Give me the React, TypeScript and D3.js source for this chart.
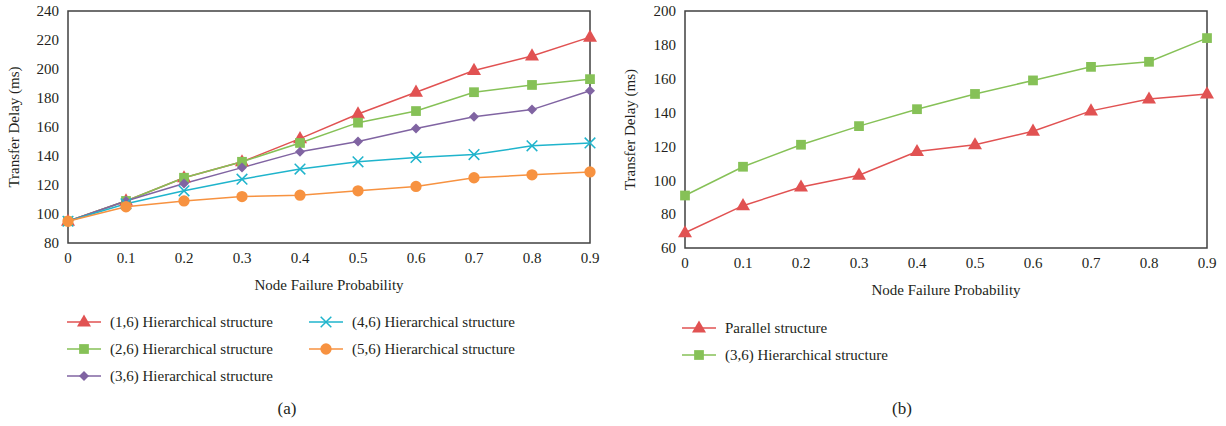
import React from "react";
import * as d3 from "d3";

const probs = [0, 0.1, 0.2, 0.3, 0.4, 0.5, 0.6, 0.7, 0.8, 0.9];
const xTickLabels = ["0", "0.1", "0.2", "0.3", "0.4", "0.5", "0.6", "0.7", "0.8", "0.9"];

const h16 = [95, 109, 125, 136, 152, 169, 184, 199, 209, 222];
const h26 = [95, 109, 125, 136, 149, 163, 171, 184, 189, 193];
const h36 = [95, 109, 121, 132, 143, 150, 159, 167, 172, 185];
const h46 = [95, 107, 116, 124, 131, 136, 139, 141, 147, 149];
const h56 = [95, 105, 109, 112, 113, 116, 119, 125, 127, 129];

const parallel = [69, 85, 96, 103, 117, 121, 129, 141, 148, 151];
const h36b = [91, 108, 121, 132, 142, 151, 159, 167, 170, 184];

const yTicksA = [80, 100, 120, 140, 160, 180, 200, 220, 240];
const yTicksB = [60, 80, 100, 120, 140, 160, 180, 200];

const RED = "#e15252";
const GREEN = "#86c157";
const PURPLE = "#8064a2";
const CYAN = "#1fb4cc";
const ORANGE = "#f79240";

const FONT = "'Liberation Serif', 'DejaVu Serif', serif";
const TEXT = "#231f20";
const FS = 15;

type Shape = "triangle" | "square" | "diamond" | "times" | "circle";

const symbolPath = (shape: Shape) => {
  const t =
    shape === "triangle"
      ? d3.symbolTriangle
      : shape === "square" || shape === "diamond"
      ? d3.symbolSquare
      : shape === "times"
      ? d3.symbolTimes
      : d3.symbolCircle;
  const size = shape === "triangle" ? 85 : shape === "square" ? 95 : shape === "diamond" ? 50 : shape === "times" ? 75 : 100;
  return d3.symbol(t, size)() as string;
};

const Marker = ({ shape, color, x, y }: { shape: Shape; color: string; x: number; y: number }) =>
  shape === "times" ? (
    <path d={symbolPath(shape)} transform={`translate(${x},${y})`} fill="none" stroke={color} strokeWidth={1.5} />
  ) : (
    <path
      d={symbolPath(shape)}
      transform={`translate(${x},${y + (shape === "triangle" ? 0.5 : 0)})${shape === "diamond" ? " rotate(45)" : ""}`}
      fill={color}
    />
  );

type Series = { name: string; values: number[]; color: string; shape: Shape };

const Panel = ({
  left,
  right,
  top,
  bottom,
  yDomain,
  yTicks,
  series,
  titleX,
}: {
  left: number;
  right: number;
  top: number;
  bottom: number;
  yDomain: [number, number];
  yTicks: number[];
  series: Series[];
  titleX: number;
}) => {
  const x = d3.scaleLinear().domain([0, 0.9]).range([left, right]);
  const y = d3.scaleLinear().domain(yDomain).range([bottom, top]);
  const line = d3
    .line<number>()
    .x((_, i) => x(probs[i]))
    .y((d) => y(d));
  return (
    <g>
      {series.map((s) => (
        <path key={s.name} d={line(s.values) as string} fill="none" stroke={s.color} strokeWidth={1.5} />
      ))}
      <rect x={left} y={top} width={right - left} height={bottom - top} fill="none" stroke="#404040" strokeWidth={1.5} />
      {series.map((s) =>
        s.values.map((v, i) => <Marker key={s.name + i} shape={s.shape} color={s.color} x={x(probs[i])} y={y(v)} />)
      )}
      {yTicks.map((t) => (
        <text key={t} x={left - 9} y={y(t)} dy="0.35em" textAnchor="end" fontSize={FS} fill={TEXT}>
          {t}
        </text>
      ))}
      {probs.map((p, i) => (
        <text key={p} x={x(p)} y={bottom + 20} textAnchor="middle" fontSize={FS} fill={TEXT}>
          {xTickLabels[i]}
        </text>
      ))}
      <text x={(left + right) / 2} y={bottom + 47} textAnchor="middle" fontSize={FS} fill={TEXT}>
        Node Failure Probability
      </text>
      <text
        transform={`translate(${titleX},${(top + bottom) / 2}) rotate(-90)`}
        textAnchor="middle"
        fontSize={FS}
        fill={TEXT}
      >
        Transfer Delay (ms)
      </text>
    </g>
  );
};

const LegendItem = ({ s, x, y }: { s: Series; x: number; y: number }) => (
  <g>
    <line x1={x} x2={x + 34} y1={y} y2={y} stroke={s.color} strokeWidth={1.5} />
    <Marker shape={s.shape} color={s.color} x={x + 17} y={y} />
    <text x={x + 43} y={y} dy="0.35em" fontSize={FS} fill={TEXT}>
      {s.name}
    </text>
  </g>
);

export default function App() {
  const seriesA: Series[] = [
    { name: "(1,6) Hierarchical structure", values: h16, color: RED, shape: "triangle" },
    { name: "(2,6) Hierarchical structure", values: h26, color: GREEN, shape: "square" },
    { name: "(3,6) Hierarchical structure", values: h36, color: PURPLE, shape: "diamond" },
    { name: "(4,6) Hierarchical structure", values: h46, color: CYAN, shape: "times" },
    { name: "(5,6) Hierarchical structure", values: h56, color: ORANGE, shape: "circle" },
  ];
  const seriesB: Series[] = [
    { name: "Parallel structure", values: parallel, color: RED, shape: "triangle" },
    { name: "(3,6) Hierarchical structure", values: h36b, color: GREEN, shape: "square" },
  ];
  return (
    <svg
      width={1226}
      height={426}
      style={{ position: "absolute", left: 0, top: 0, background: "#fff" }}
      fontFamily={FONT}
    >
      <Panel left={68} right={590} top={11} bottom={243} yDomain={[80, 240]} yTicks={yTicksA} series={seriesA} titleX={19} />
      <Panel left={685} right={1207} top={11} bottom={248} yDomain={[60, 200]} yTicks={yTicksB} series={seriesB} titleX={635} />
      <LegendItem s={seriesA[0]} x={67} y={322} />
      <LegendItem s={seriesA[1]} x={67} y={349} />
      <LegendItem s={seriesA[2]} x={67} y={376} />
      <LegendItem s={seriesA[3]} x={309} y={322} />
      <LegendItem s={seriesA[4]} x={309} y={349} />
      <LegendItem s={seriesB[0]} x={682} y={328} />
      <LegendItem s={seriesB[1]} x={682} y={355} />
      <text x={287} y={408} dy="0.35em" textAnchor="middle" fontSize={17} fill={TEXT}>
        (a)
      </text>
      <text x={902} y={408} dy="0.35em" textAnchor="middle" fontSize={17} fill={TEXT}>
        (b)
      </text>
    </svg>
  );
}
